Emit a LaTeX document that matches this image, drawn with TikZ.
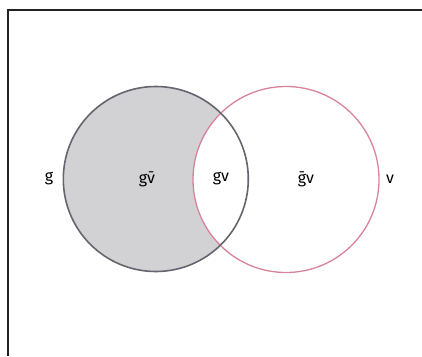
\documentclass[tikz,border=0pt]{standalone}
\usepackage{fontspec}
\setmainfont{Fira Sans}
\usepackage{tikz}
\usetikzlibrary{positioning}
\definecolor{SetGrey}{HTML}{65656F}
\definecolor{SetShade}{HTML}{D2D2D4}
\definecolor{SetRose}{HTML}{D8839A}
\definecolor{FrameBlack}{HTML}{222222}
\tikzset{
    % sets drawn as circles
    set g/.style={
        circle,
        draw=none,
        fill=SetShade,
        minimum size=185pt,
        inner sep=0pt
    },
    set v/.style={
        circle,
        draw=SetRose,
        fill=white,
        line width=1.3pt,
        minimum size=186pt,
        inner sep=0pt
    },
    set outline/.style={
        draw=SetGrey,
        line width=1.6pt
    },
    region label/.style={
        font=\fontsize{16}{18}\selectfont,
        inner sep=1pt
    }
}

\begin{document}
\begin{tikzpicture}[x=1pt, y=-1pt]
    \useasboundingbox (0,0) rectangle (422,356);

    % Frame
    \draw[FrameBlack, line width=1.3pt] (422,10) -- (8,10) -- (8,356);

    % Sets
    \node[set g] (gset) at (155.8,179) {};
    \node[set v] (vset) at (286,179.5) {};
    \draw[set outline] (gset.center) circle[radius=92.5pt];

    % Labels
    \node[region label] (glabel) at (49,179) {g};
    \node[region label] (gnotv) at (147,179) {g\=v};
    \node[region label] (gandv) at (221,179) {gv};
    \node[region label] (notgv) at (306,179) {\=gv};
    \node[region label] (vlabel) at (390,179) {v};
\end{tikzpicture}
\end{document}
